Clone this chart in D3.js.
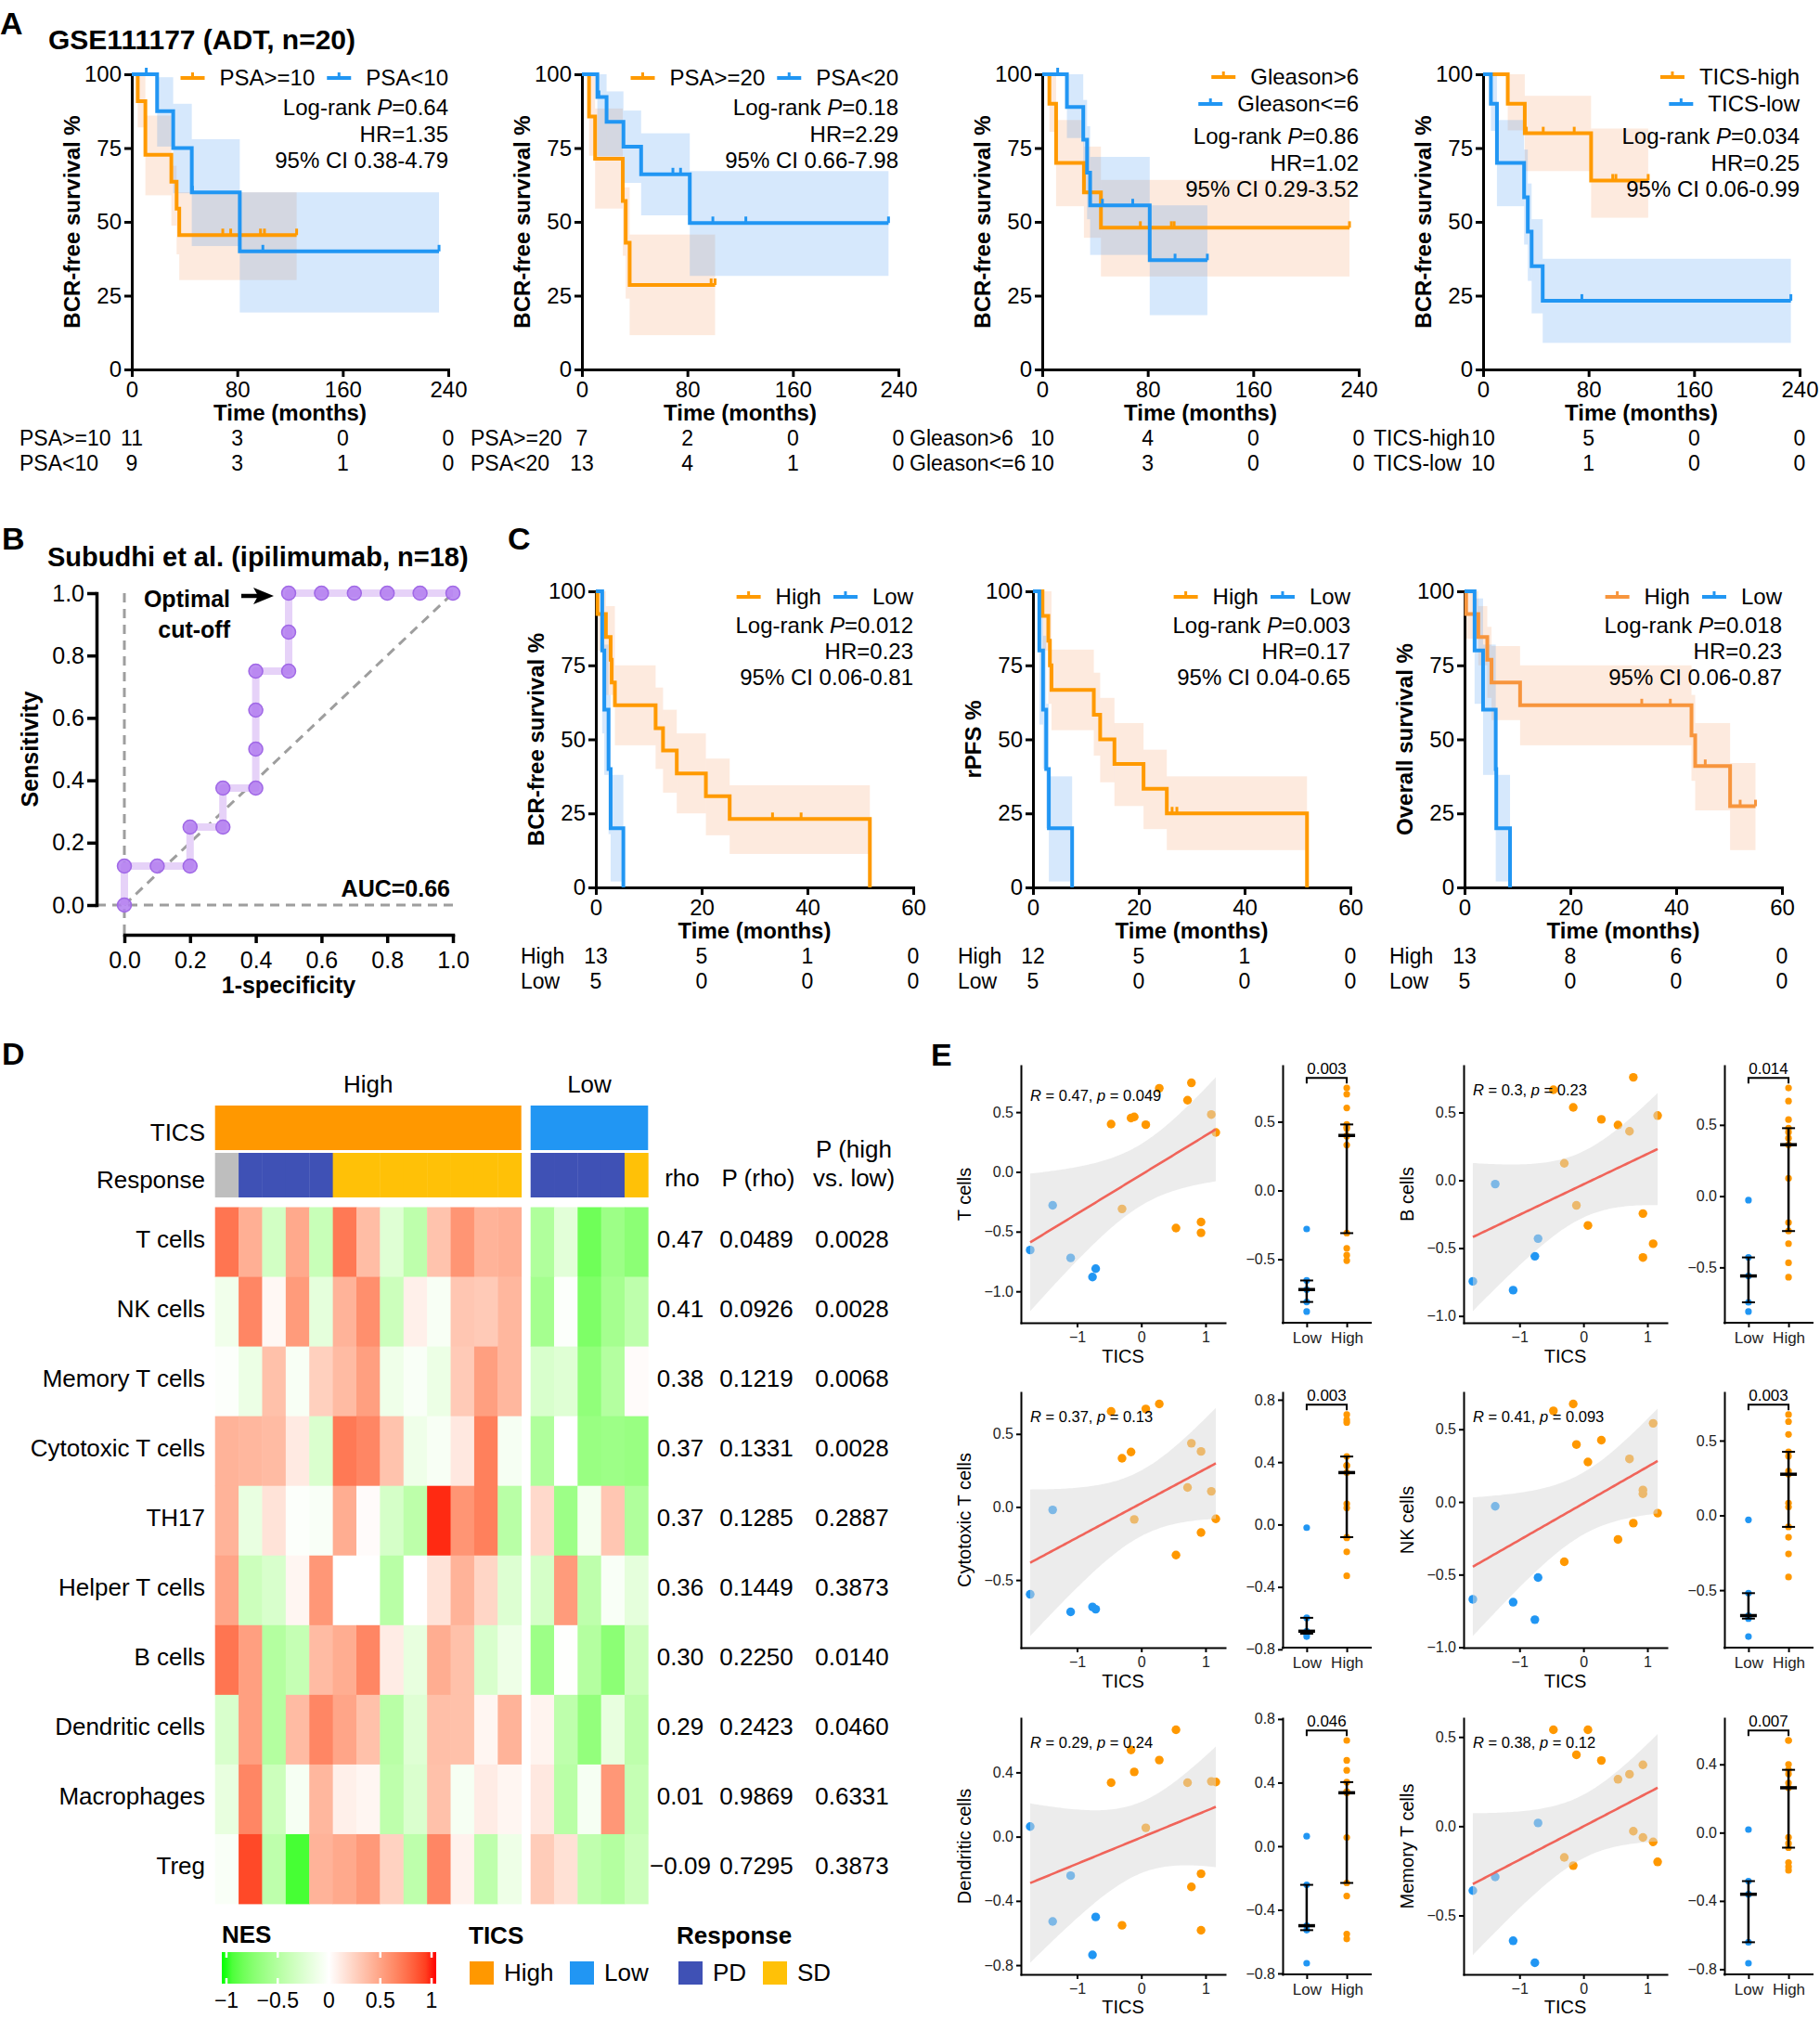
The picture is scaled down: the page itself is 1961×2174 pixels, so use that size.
<!DOCTYPE html>
<html><head><meta charset="utf-8">
<script src="https://cdn.jsdelivr.net/npm/d3@7"></script>
<style>html,body{margin:0;padding:0;background:#fff}</style>
</head><body>
<svg id="fig" width="1961" height="2174" xmlns="http://www.w3.org/2000/svg"></svg>
<script>
// ================= DATA =================
const survTicks=[0,25,50,75,100];
const kmTicksA=[0,80,160,240];
const kmTicksC=[0,20,40,60];

// ---- Panel A : KM steps [time, survival%], CI segments [t0,t1,lower,upper], censor times
const a1HiKM=[[0,100],[4.5,90.9],[10.3,72.7],[30,63.6],[34,54.5],[36,45.5],[125,45.5]];
const a1HiCI=[[4.5,10.3,82,100],[10.3,30,59,86],[30,34,48.7,69],[34,36,39,60],[36,125,30.3,60]];
const a1HiCens=[69,75,97.6,100.6,125];
const a1LoKM=[[0,100],[19.2,87.5],[31.4,75],[45.5,60],[81.9,40],[233,40]];
const a1LoCI=[[19.2,31.4,75.5,99],[31.4,45.5,59.7,90],[45.5,81.9,41.8,78],[81.9,233,19.3,60]];
const a1LoCens=[11,46,99.4,233];

const a2HiKM=[[0,100],[5.4,85.7],[10,71.4],[31,57.1],[33.2,42.9],[36.2,28.6],[101,28.6]];
const a2HiCI=[[5.4,10,72.4,100],[10,31,54.5,88.4],[31,33.2,38.5,61.7],[33.2,36.2,24,61.7],[36.2,101,11.6,45.7]];
const a2HiCens=[98,101];
const a2LoKM=[[0,100],[11.7,92.3],[18.7,83.9],[31.5,75.5],[44.9,66.1],[81.8,49.6],[232.5,49.6]];
const a2LoCI=[[11.7,18.7,72.2,100],[18.7,31.5,72.2,94.2],[31.5,44.9,63.2,87.7],[44.9,81.8,52.2,80],[81.8,232.5,31.7,67.2]];
const a2LoCens=[12.9,69,74.8,99.3,124.3,232.5];

const a3HiKM=[[0,100],[5.4,90],[10.5,70],[31.6,60],[44.5,48],[233,48]];
const a3HiCI=[[5.4,10.5,80.5,100],[10.5,31.6,55.3,84.5],[31.6,44.5,44.6,75.5],[44.5,233,31.5,64.2]];
const a3HiCens=[74.4,97.9,100,233];
const a3LoKM=[[0,100],[18.7,88.9],[31.1,77.8],[34,66.7],[36.3,55.6],[81.5,37],[125.2,37]];
const a3LoCI=[[18.7,31.1,78.4,100],[31.1,34,60,91.3],[34,36.3,50.9,82.4],[36.3,81.5,38.8,72],[81.5,125.2,18.4,55.6]];
const a3LoCens=[11.7,45.6,68.6,100.7,125.2];

const a4HiKM=[[0,100],[18.7,90],[31.6,80],[81.9,64],[125.2,64]];
const a4HiCI=[[18.7,31.6,81,100],[31.6,81.9,67.2,92.7],[81.9,125.2,51.4,81.6]];
const a4HiCens=[32.8,45.6,69.1,98.3,100.7,125.2];
const a4LoKM=[[0,100],[5.9,90],[10.5,70],[31.1,58.3],[33.9,46.7],[36.8,35],[45.2,23.3],[233.4,23.3]];
const a4LoCI=[[5.9,10.5,80.8,100],[10.5,31.1,55.3,84.5],[31.1,33.9,42.3,74.5],[33.9,36.8,30,63],[36.8,45.2,19,50.9],[45.2,233.4,9,37.5]];
const a4LoCens=[74.9,233.4];

const statsA=[["0.64","1.35","0.38-4.79"],["0.18","2.29","0.66-7.98"],["0.86","1.02","0.29-3.52"],["0.034","0.25","0.06-0.99"]];
const groupsA=[["PSA>=10","PSA<10"],["PSA>=20","PSA<20"],["Gleason>6","Gleason<=6"],["TICS-high","TICS-low"]];
const riskA=[[[11,3,0,0],[9,3,1,0]],[[7,2,0,0],[13,4,1,0]],[[10,4,0,0],[10,3,0,0]],[[10,5,0,0],[10,1,0,0]]];

// ---- Panel C
const c1HiKM=[[0,100],[0.3,92.3],[1.9,84.6],[2.8,76.9],[3.0,69.2],[3.6,61.5],[11.3,53.8],[12.7,46.2],[15.3,38.5],[20.8,30.8],[25.3,23.1],[51.8,0]];
const c1HiCI=[[0.3,1.9,80,100],[1.9,3.6,65,95],[3.6,11.3,48,75],[11.3,12.7,40,67.5],[12.7,15.3,32,60],[15.3,20.8,25,52],[20.8,25.3,17.6,43.5],[25.3,51.8,11.3,34.5]];
const c1HiCens=[33.4,38.8];
const c1LoKM=[[0,100],[1.2,80],[1.6,60],[2.4,40],[2.8,20],[5.2,0]];
const c1LoCI=[[1.2,1.6,52,100],[1.6,2.4,38,82],[2.4,2.8,18,65],[2.8,5.2,2,38]];

const c2HiKM=[[0,100],[1.8,91.7],[2.9,83.3],[3.2,75],[3.5,66.7],[11.5,58.3],[12.7,50],[15.4,41.7],[20.9,33.3],[25.3,25],[51.8,0]];
const c2HiCI=[[1.8,2.9,80,100],[2.9,3.5,62,100],[3.5,11.5,53.1,80.3],[11.5,12.7,44.5,72.5],[12.7,15.4,35.5,64],[15.4,20.9,27.5,55.5],[20.9,25.3,19.7,46.5],[25.3,51.8,12.6,37.5]];
const c2HiCens=[26.3,27.2];
const c2LoKM=[[0,100],[1.2,80],[1.9,60],[2.5,40],[3.0,20],[7.4,0]];
const c2LoCI=[[1.2,1.9,55,100],[1.9,2.5,40,85],[2.5,3.0,20,62],[3.0,7.4,2,37.5]];

const c3HiKM=[[0,100],[0.3,92.3],[2.6,84.6],[4.3,76.9],[5.1,69.2],[10.5,61.5],[42.9,51.3],[43.6,41],[50.2,27.4],[55,27.4]];
const c3HiCI=[[0.3,2.6,84,100],[2.6,4.3,75,95],[4.3,5.1,64,88],[5.1,10.5,56.5,81.5],[10.5,42.9,48,75],[42.9,43.6,36,65],[43.6,50.2,26,55.5],[50.2,55,12.6,42]];
const c3HiCens=[33.5,38.9,45.5,52.1,55];
const c3LoKM=[[0,100],[1.9,80],[3.5,60],[5.9,40],[6.0,20],[8.6,0]];
const c3LoCI=[[1.9,3.5,62,97.6],[3.5,5.9,38,82],[5.9,8.6,2,38]];

const statsC=[["0.012","0.23","0.06-0.81"],["0.003","0.17","0.04-0.65"],["0.018","0.23","0.06-0.87"]];
const ylabC=["BCR-free survival %","rPFS %","Overall survival %"];
const riskC=[[[13,5,1,0],[5,0,0,0]],[[12,5,1,0],[5,0,0,0]],[[13,8,6,0],[5,0,0,0]]];

// ---- Panel B : ROC
const rocFPR=[0,0,0.1,0.2,0.2,0.3,0.3,0.4,0.4,0.4,0.4,0.5,0.5,0.5,0.6,0.7,0.8,0.9,1.0];
const rocTPR=[0,0.125,0.125,0.125,0.25,0.25,0.375,0.375,0.5,0.625,0.75,0.75,0.875,1,1,1,1,1,1];
const rocTicks=[0,0.2,0.4,0.6,0.8,1.0];

// ---- Panel D : heatmap NES
const cellTypes=['T cells','NK cells','Memory T cells','Cytotoxic T cells','TH17','Helper T cells','B cells','Dendritic cells','Macrophages','Treg'];
const heatHigh=[
 [0.70,0.42,-0.30,0.45,-0.36,0.68,0.35,-0.22,-0.42,0.32,0.55,0.40,0.42],
 [-0.10,0.62,0.04,0.52,-0.18,0.40,0.58,-0.34,0.08,-0.05,0.30,0.28,0.38],
 [-0.02,-0.13,0.33,-0.05,0.25,0.36,0.50,-0.11,-0.04,-0.13,0.28,0.50,0.38],
 [0.40,0.38,0.36,0.11,-0.25,0.68,0.62,0.32,-0.11,-0.05,0.12,0.65,-0.06],
 [0.40,-0.15,0.15,-0.02,-0.04,0.43,0.02,-0.28,-0.43,0.95,0.55,0.65,-0.45],
 [0.47,-0.34,-0.26,0.05,0.54,0.0,0.0,-0.45,0.0,0.15,0.40,0.22,-0.23],
 [0.70,0.50,-0.48,-0.38,0.36,0.43,0.62,0.10,-0.16,0.43,0.33,-0.26,-0.12],
 [-0.26,0.50,-0.48,0.36,0.62,0.47,0.33,-0.45,-0.22,0.34,0.33,0.05,0.40],
 [-0.16,0.62,-0.34,-0.06,0.38,0.08,0.05,-0.42,-0.25,0.33,-0.06,0.10,0.05],
 [-0.04,0.87,-0.42,-0.92,0.40,0.45,0.53,0.24,-0.42,0.62,0.07,-0.42,-0.12]];
const heatLow=[
 [-0.50,-0.20,-0.80,-0.60,-0.68],
 [-0.56,-0.02,-0.74,-0.56,-0.42],
 [-0.26,-0.22,-0.66,-0.48,0.02],
 [-0.50,0.0,-0.62,-0.60,-0.62],
 [0.20,-0.60,-0.08,0.30,-0.50],
 [-0.28,0.52,-0.42,-0.04,-0.18],
 [-0.60,-0.01,-0.48,-0.68,-0.34],
 [0.06,-0.42,-0.65,-0.16,-0.42],
 [0.12,-0.45,-0.06,0.54,-0.38],
 [0.27,0.16,-0.41,-0.48,-0.34]];
const respHigh=['NA','PD','PD','PD','PD','SD','SD','SD','SD','SD','SD','SD','SD'];
const respLow=['PD','PD','PD','PD','SD'];
const rhoVals=['0.47','0.41','0.38','0.37','0.37','0.36','0.30','0.29','0.01','\u22120.09'];
const pRhoVals=['0.0489','0.0926','0.1219','0.1331','0.1285','0.1449','0.2250','0.2423','0.9869','0.7295'];
const pHLVals=['0.0028','0.0028','0.0068','0.0028','0.2887','0.3873','0.0140','0.0460','0.6331','0.3873'];
const nesTicks=[-1,-0.5,0,0.5,1];

// ---- Panel E : per-sample TICS score and NES
const ticsScore=[-1.73,-1.38,-1.10,-0.76,-0.71,-0.47,-0.30,-0.16,-0.11,0.07,0.28,0.54,0.72,0.78,0.93,0.93,1.09,1.16];
const ticsGroup=['Low','Low','Low','Low','Low','High','High','High','High','High','High','High','High','High','High','High','High','High'];
const nesTcells=[-0.654,-0.28,-0.72,-0.88,-0.81,0.40,-0.31,0.45,0.46,0.395,0.70,-0.47,0.60,0.745,-0.42,-0.51,0.48,0.33];
const nesBcells=[-0.745,-0.028,-0.81,-0.56,-0.43,0.667,0.125,0.537,-0.185,-0.333,0.449,0.407,0.361,0.759,-0.245,-0.569,-0.468,0.477];
const nesCyto=[-0.598,-0.02,-0.718,-0.684,-0.70,0.654,0.333,0.376,-0.085,0.671,0.705,-0.329,0.133,0.436,-0.175,0.38,0.107,-0.081];
const nesNK=[-0.67,-0.03,-0.69,-0.81,-0.52,0.627,-0.412,0.674,0.395,0.275,0.425,-0.258,0.296,-0.146,0.082,0.056,0.541,-0.077];
const nesDC=[0.063,-0.528,-0.243,-0.736,-0.50,0.336,-0.552,0.54,0.403,0.055,0.477,0.665,0.336,-0.313,-0.231,-0.583,0.344,0.34];
const nesMem=[-0.361,-0.284,-0.642,-0.765,0.018,0.54,-0.175,-0.221,0.40,0.54,0.368,0.263,0.291,-0.028,0.344,-0.063,-0.088,-0.20];
const corR=['0.47','0.3','0.37','0.41','0.29','0.38'];
const corP=['0.049','0.23','0.13','0.093','0.24','0.12'];
const groupP=['0.003','0.014','0.003','0.003','0.046','0.007'];
const scatTicks=[[-1,-0.5,0,0.5],[-1,-0.5,0,0.5],[-0.5,0,0.5],[-1,-0.5,0,0.5],[-0.8,-0.4,0,0.4],[-0.5,0,0.5]];
const dotTicks=[[-0.5,0,0.5],[-0.5,0,0.5],[-0.8,-0.4,0,0.4,0.8],[-0.5,0,0.5],[-0.8,-0.4,0,0.4,0.8],[-0.8,-0.4,0,0.4]];

// ================= DRAWING =================
const ORANGE='#ff9a00', BLUE='#2196f3', OBAND='#f5945a', BBAND='#338cf0';
const svg=d3.select('#fig').attr('font-family',"'Liberation Sans', Arial, Helvetica, sans-serif");

function T(g,x,y,s,o){o=o||{};const t=g.append('text').attr('x',x).attr('y',y).attr('font-size',o.size||24)
 .attr('text-anchor',o.anchor||'start').attr('fill',o.fill||'#000');
 if(o.bold)t.attr('font-weight','bold'); if(o.italic)t.attr('font-style','italic');
 if(s!==null&&s!==undefined)t.text(s); return t;}
function styleAxis(a,size,sw,col){a.attr('font-family',null).attr('font-size',size);
 a.selectAll('path,line').attr('stroke','#000').attr('stroke-width',sw);
 a.select('.domain').attr('stroke-linecap','square');a.selectAll('text').attr('fill',col||'#000');}

function drawKM(o){
 const g=svg.append('g');
 const x=d3.scaleLinear().domain([0,o.tmax]).range([o.x0,o.x0+o.w]);
 const y=d3.scaleLinear().domain([0,100]).range([o.yb,o.yt]);
 const x1=o.x0+o.w;
 o.curves.forEach(c=>{
  g.append('g').selectAll('rect').data(c.ci).join('rect')
   .attr('x',d=>x(d[0])).attr('width',d=>x(d[1])-x(d[0]))
   .attr('y',d=>y(d[3])).attr('height',d=>y(d[2])-y(d[3]))
   .attr('fill',c.band).attr('fill-opacity',0.2);
 });
 const ya=g.append('g').attr('transform',`translate(${o.x0},0)`).call(d3.axisLeft(y).tickValues(survTicks).tickSize(8).tickSizeOuter(0).tickPadding(3));
 const xa=g.append('g').attr('transform',`translate(0,${o.yb})`).call(d3.axisBottom(x).tickValues(o.ticks).tickSize(8).tickSizeOuter(0).tickPadding(5));
 styleAxis(ya,24,3);styleAxis(xa,24,3);
 const line=d3.line().x(d=>x(d[0])).y(d=>y(d[1])).curve(d3.curveStepAfter);
 o.curves.forEach(c=>{
  g.append('path').attr('d',line(c.km)).attr('fill','none').attr('stroke',c.color).attr('stroke-width',4);
  const S=t=>{let v=100;c.km.forEach(p=>{if(p[0]<=t)v=p[1];});return v;};
  g.append('g').selectAll('line').data(c.cens||[]).join('line')
   .attr('x1',d=>x(d)).attr('x2',d=>x(d)).attr('y1',d=>y(S(d))).attr('y2',d=>y(S(d))-7)
   .attr('stroke',c.color).attr('stroke-width',3);
 });
 T(g,0,0,o.ylabel,{size:24,bold:true,anchor:'middle'}).attr('dy','0.35em')
  .attr('transform',`translate(${o.x0-64},${(o.yb+o.yt)/2}) rotate(-90)`);
 T(g,(o.x0+x1)/2,o.yb+55,'Time (months)',{size:24,bold:true,anchor:'middle'});
 o.legend.forEach(row=>{
  let xr=x1;
  for(let i=row.items.length-1;i>=0;i--){
   const lab=row.items[i][0], col=row.items[i][1];
   const t=T(g,xr,row.y,lab,{anchor:'end'});
   const w=t.node().getComputedTextLength();
   const sR=xr-w-16, sL=sR-26, ly=row.y-8;
   g.append('line').attr('x1',sL).attr('x2',sR).attr('y1',ly).attr('y2',ly).attr('stroke',col).attr('stroke-width',4);
   g.append('line').attr('x1',(sL+sR)/2).attr('x2',(sL+sR)/2).attr('y1',ly).attr('y2',ly-6).attr('stroke',col).attr('stroke-width',3);
   xr=sL-13;
  }
 });
 const t1=T(g,x1,o.statY[0],null,{anchor:'end'});
 t1.append('tspan').text('Log-rank ');
 t1.append('tspan').attr('font-style','italic').text('P');
 t1.append('tspan').text('='+o.stats[0]);
 T(g,x1,o.statY[1],'HR='+o.stats[1],{anchor:'end'});
 T(g,x1,o.statY[2],'95% CI '+o.stats[2],{anchor:'end'});
 o.riskLabels.forEach((lab,i)=>{
  T(g,o.riskX,o.riskY[i],lab,{size:23});
  o.risk[i].forEach((n,j)=>T(g,x(o.ticks[j]),o.riskY[i],n,{size:23,anchor:'middle'}));
 });
}

// Panel letters and titles
T(svg,0,37,'A',{size:34,bold:true});
T(svg,52,53,'GSE111177 (ADT, n=20)',{size:30,bold:true});
T(svg,2,592,'B',{size:34,bold:true});
T(svg,51,610,'Subudhi et al. (ipilimumab, n=18)',{size:29,bold:true});
T(svg,547,592,'C',{size:34,bold:true});
T(svg,2,1147,'D',{size:34,bold:true});
T(svg,1003,1148,'E',{size:34,bold:true});

// ---- Panel A
const aX0=[142,627,1123,1598];
const aRiskX=[21,507,980,1480];
const aCurves=[
 [[a1HiKM,a1HiCI,a1HiCens],[a1LoKM,a1LoCI,a1LoCens]],
 [[a2HiKM,a2HiCI,a2HiCens],[a2LoKM,a2LoCI,a2LoCens]],
 [[a3HiKM,a3HiCI,a3HiCens],[a3LoKM,a3LoCI,a3LoCens]],
 [[a4HiKM,a4HiCI,a4HiCens],[a4LoKM,a4LoCI,a4LoCens]]];
aX0.forEach((x0,i)=>{
 const two=i>=2;
 drawKM({x0:x0,w:341,yb:398,yt:80,tmax:240,ticks:kmTicksA,ylabel:'BCR-free survival %',
  curves:[{km:aCurves[i][0][0],ci:aCurves[i][0][1],cens:aCurves[i][0][2],color:ORANGE,band:OBAND},
          {km:aCurves[i][1][0],ci:aCurves[i][1][1],cens:aCurves[i][1][2],color:BLUE,band:BBAND}],
  legend: two?[{y:91,items:[[groupsA[i][0],ORANGE]]},{y:120,items:[[groupsA[i][1],BLUE]]}]
             :[{y:92,items:[[groupsA[i][0],ORANGE],[groupsA[i][1],BLUE]]}],
  statY: two?[155,184,212]:[124,153,181], stats:statsA[i],
  riskLabels:groupsA[i], risk:riskA[i], riskX:aRiskX[i], riskY:[480,507]});
});

// ---- Panel C
const cX0=[642,1113,1578];
const cRiskX=[561,1032,1497];
const cCurves=[[[c1HiKM,c1HiCI,c1HiCens],[c1LoKM,c1LoCI,[]]],[[c2HiKM,c2HiCI,c2HiCens],[c2LoKM,c2LoCI,[]]],[[c3HiKM,c3HiCI,c3HiCens],[c3LoKM,c3LoCI,[]]]];
cX0.forEach((x0,i)=>{
 const oc=i===2?'#f7953d':ORANGE;
 drawKM({x0:x0,w:342,yb:956,yt:637,tmax:60,ticks:kmTicksC,ylabel:ylabC[i],
  curves:[{km:cCurves[i][0][0],ci:cCurves[i][0][1],cens:cCurves[i][0][2],color:oc,band:OBAND},
          {km:cCurves[i][1][0],ci:cCurves[i][1][1],cens:[],color:BLUE,band:BBAND}],
  legend:[{y:651,items:[['High',oc],['Low',BLUE]]}],
  statY:[682,710,738], stats:statsC[i],
  riskLabels:['High','Low'], risk:riskC[i], riskX:cRiskX[i], riskY:[1038,1065]});
});

// ---- Panel B
(function(){
 const g=svg.append('g');
 const x=d3.scaleLinear().domain([0,1]).range([134,488]);
 const y=d3.scaleLinear().domain([0,1]).range([975,639]);
 const dl=(x1,y1,x2,y2)=>g.append('line').attr('x1',x1).attr('y1',y1).attr('x2',x2).attr('y2',y2)
   .attr('stroke','#9e9e9e').attr('stroke-width',3).attr('stroke-dasharray','10,7');
 dl(x(0),y(1),x(0),1006); dl(104,y(0),x(1),y(0)); dl(x(0),y(0),x(1),y(1));
 const ya=g.append('g').attr('transform','translate(104,0)').call(d3.axisLeft(y).tickValues(rocTicks).tickFormat(d3.format('.1f')).tickSize(10).tickSizeOuter(0).tickPadding(3));
 const xa=g.append('g').attr('transform','translate(0,1007)').call(d3.axisBottom(x).tickValues(rocTicks).tickFormat(d3.format('.1f')).tickSize(9).tickSizeOuter(0).tickPadding(9));
 styleAxis(ya,25,3.5);styleAxis(xa,25,3.5);
 const pts=rocFPR.map((f,i)=>[f,rocTPR[i]]);
 g.append('path').attr('d',d3.line().x(d=>x(d[0])).y(d=>y(d[1]))(pts)).attr('fill','none')
  .attr('stroke','#e6d2f8').attr('stroke-width',8).attr('stroke-linejoin','round');
 g.selectAll('circle').data(pts).join('circle').attr('cx',d=>x(d[0])).attr('cy',d=>y(d[1])).attr('r',7.5)
  .attr('fill','#b27cf0').attr('fill-opacity',0.85).attr('stroke','#a068e6').attr('stroke-width',1.5);
 T(g,0,0,'Sensitivity',{size:25,bold:true,anchor:'middle'}).attr('dy','0.35em').attr('transform','translate(32,807) rotate(-90)');
 T(g,311,1070,'1-specificity',{size:25,bold:true,anchor:'middle'});
 T(g,248,654,'Optimal',{size:25,bold:true,anchor:'end'});
 T(g,248,687,'cut-off',{size:25,bold:true,anchor:'end'});
 g.append('line').attr('x1',260).attr('x2',280).attr('y1',642).attr('y2',642).attr('stroke','#000').attr('stroke-width',4.5);
 g.append('path').attr('d','M273,633L295,642L273,651L278,642Z').attr('fill','#000');
 T(g,485,966,'AUC=0.66',{size:25,bold:true,anchor:'end'});
})();

// ---- Panel D
(function(){
 const g=svg.append('g');
 const color=d3.scaleLinear().domain([-1,0,1]).range(['#00ff00','#ffffff','#ff0000']).interpolate(d3.interpolateLab);
 const ticsCol={High:'#ff9800',Low:'#2196f3'}, respCol={NA:'#bebebe',PD:'#3f51b5',SD:'#ffc107'};
 const xH=d3.scaleBand().domain(d3.range(heatHigh[0].length)).range([231.7,561.7]);
 const xL=d3.scaleBand().domain(d3.range(heatLow[0].length)).range([571.7,698.3]);
 const yR=d3.scaleBand().domain(cellTypes).range([1300.5,2051]);
 const grp=[[xH,heatHigh,respHigh,'High'],[xL,heatLow,respLow,'Low']];
 grp.forEach(([xs,mat,resp,name])=>{
  const [r0,r1]=xs.range();
  g.append('rect').attr('x',r0).attr('y',1191).attr('width',r1-r0).attr('height',48).attr('fill',ticsCol[name]);
  g.selectAll(null).data(resp).join('rect').attr('x',(d,i)=>xs(i)).attr('y',1242).attr('width',xs.bandwidth()+0.4).attr('height',48).attr('fill',d=>respCol[d]);
  mat.forEach((row,ri)=>{
   g.selectAll(null).data(row).join('rect').attr('x',(d,i)=>xs(i)).attr('y',yR(cellTypes[ri]))
    .attr('width',xs.bandwidth()+0.4).attr('height',yR.bandwidth()+0.4).attr('fill',d=>color(d));
  });
  T(g,(r0+r1)/2,1177,name,{size:26,anchor:'middle'});
 });
 T(g,221,1229,'TICS',{size:26,anchor:'end'});
 T(g,221,1280,'Response',{size:26,anchor:'end'});
 cellTypes.forEach((c,i)=>{
  const yc=yR(c)+yR.bandwidth()/2+6;
  T(g,221,yc,c,{size:26,anchor:'end'});
  T(g,733,yc,rhoVals[i],{size:26,anchor:'middle'});
  T(g,815,yc,pRhoVals[i],{size:26,anchor:'middle'});
  T(g,918,yc,pHLVals[i],{size:26,anchor:'middle'});
 });
 T(g,735,1278,'rho',{size:26,anchor:'middle'});
 T(g,817,1278,'P (rho)',{size:26,anchor:'middle'});
 T(g,920,1247,'P (high',{size:26,anchor:'middle'});
 T(g,920,1278,'vs. low)',{size:26,anchor:'middle'});
 // legends
 T(g,239,2093,'NES',{size:26,bold:true});
 const ls=d3.scaleLinear().domain([-1,1]).range([244,465]);
 const defs=svg.append('defs');
 const gr=defs.append('linearGradient').attr('id','nesgrad').attr('x1','0%').attr('x2','100%');
 d3.range(0,1.0001,0.05).forEach(f=>{const v=-1+2*f;gr.append('stop').attr('offset',(f*100)+'%').attr('stop-color',color(v));});
 g.append('rect').attr('x',ls(-1)-5).attr('y',2103).attr('width',ls(1)-ls(-1)+10).attr('height',34).attr('fill','url(#nesgrad)');
 nesTicks.forEach(v=>{
  g.append('line').attr('x1',ls(v)).attr('x2',ls(v)).attr('y1',2103).attr('y2',2109).attr('stroke','#fff').attr('stroke-width',2.5);
  g.append('line').attr('x1',ls(v)).attr('x2',ls(v)).attr('y1',2131).attr('y2',2137).attr('stroke','#fff').attr('stroke-width',2.5);
  T(g,ls(v),2163,d3.format('')(v).replace('-','\u2212'),{size:23,anchor:'middle'});
 });
 T(g,505,2094,'TICS',{size:26,bold:true});
 T(g,729,2094,'Response',{size:26,bold:true});
 const sq=[[506,'High',ticsCol.High],[614,'Low',ticsCol.Low],[731,'PD',respCol.PD],[822,'SD',respCol.SD]];
 sq.forEach(([x,l,c])=>{g.append('rect').attr('x',x).attr('y',2113).attr('width',26).attr('height',25).attr('fill',c);
  T(g,x+37,2134,l,{size:26});});
})();

// ---- Panel E
function lmBand(xs,ys){
 const n=xs.length,mx=d3.mean(xs),my=d3.mean(ys);let sxx=0,sxy=0;
 xs.forEach((x,i)=>{sxx+=(x-mx)**2;sxy+=(x-mx)*(ys[i]-my);});
 const b=sxy/sxx,a=my-b*mx;let sse=0;xs.forEach((x,i)=>{sse+=(ys[i]-a-b*x)**2;});
 const s=Math.sqrt(sse/(n-2)),tq=2.1199;const [x0,x1]=d3.extent(xs);
 return d3.range(81).map(i=>{const x=x0+(x1-x0)*i/80,f=a+b*x,se=s*Math.sqrt(1/n+(x-mx)**2/sxx);return {x:x,f:f,lo:f-tq*se,hi:f+tq*se};});
}
const eNames=['T cells','B cells','Cytotoxic T cells','NK cells','Dendritic cells','Memory T cells'];
const eVals=[nesTcells,nesBcells,nesCyto,nesNK,nesDC,nesMem];
const eCols=[{sx0:1100,sx1:1320,dx0:1382,dx1:1477},{sx0:1577,sx1:1796,dx0:1858,dx1:1953}];
const eRows=[{top:1148,bot:1425},{top:1500,bot:1775},{top:1851,bot:2127}];
const gCol={Low:'#2196f3',High:'#ff9800'};
const fmt=d3.format('.1f');
eNames.forEach((name,k)=>{
 const C=eCols[k%2],R=eRows[Math.floor(k/2)],vals=eVals[k];
 const g=svg.append('g');
 const band=lmBand(ticsScore,vals);
 const ext=d3.extent(vals.concat(band.map(d=>d.lo),band.map(d=>d.hi)));const rr=ext[1]-ext[0];
 const ys=d3.scaleLinear().domain([ext[0]-0.05*rr,ext[1]+0.05*rr]).range([R.bot,R.top]);
 const xe=d3.extent(ticsScore),xr=xe[1]-xe[0];
 const xs=d3.scaleLinear().domain([xe[0]-0.05*xr,xe[1]+0.05*xr]).range([C.sx0,C.sx1]);
 const ya=g.append('g').attr('transform',`translate(${C.sx0},0)`).call(d3.axisLeft(ys).tickValues(scatTicks[k]).tickFormat(fmt).tickSize(5).tickSizeOuter(0).tickPadding(3));
 const xa=g.append('g').attr('transform',`translate(0,${R.bot})`).call(d3.axisBottom(xs).tickValues([-1,0,1]).tickFormat(d3.format('d')).tickSize(5).tickSizeOuter(0).tickPadding(5));
 styleAxis(ya,16,2,'#222');styleAxis(xa,16,2,'#222');
 g.selectAll('circle.p').data(vals).join('circle').attr('class','p').attr('cx',(d,i)=>xs(ticsScore[i])).attr('cy',d=>ys(d)).attr('r',4.7).attr('fill',(d,i)=>gCol[ticsGroup[i]]);
 g.append('path').attr('d',d3.area().x(d=>xs(d.x)).y0(d=>ys(d.lo)).y1(d=>ys(d.hi))(band)).attr('fill','#d9d9d9').attr('fill-opacity',0.5);
 g.append('path').attr('d',d3.line().x(d=>xs(d.x)).y(d=>ys(d.f))(band)).attr('fill','none').attr('stroke','#f0645a').attr('stroke-width',2.6);
 const rt=T(g,xs(xe[0]),ys(d3.max(vals))+19,null,{size:16.5});
 rt.append('tspan').attr('font-style','italic').text('R');
 rt.append('tspan').text(' = '+corR[k]+', ');
 rt.append('tspan').attr('font-style','italic').text('p');
 rt.append('tspan').text(' = '+corP[k]);
 T(g,0,0,name,{size:20,anchor:'middle'}).attr('dy','0.35em').attr('transform',`translate(${C.sx0-61},${(R.top+R.bot)/2}) rotate(-90)`);
 T(g,(C.sx0+C.sx1)/2,Math.min(R.bot+43,2169),'TICS',{size:20,anchor:'middle'});
 // dot plot
 const dx=d3.scalePoint().domain(['Low','High']).range([C.dx0,C.dx1]).padding(0.6);
 const mn=d3.min(vals),mx=d3.max(vals),r2=mx-mn;
 const dy=d3.scaleLinear().domain([mn-0.05*r2,mx+0.1*r2]).range([R.bot,R.top]);
 const dya=g.append('g').attr('transform',`translate(${C.dx0},0)`).call(d3.axisLeft(dy).tickValues(dotTicks[k]).tickFormat(fmt).tickSize(5).tickSizeOuter(0).tickPadding(3));
 const dxa=g.append('g').attr('transform',`translate(0,${R.bot})`).call(d3.axisBottom(dx).tickSize(5).tickSizeOuter(0).tickPadding(5));
 styleAxis(dya,16,2,'#222');styleAxis(dxa,17,2,'#222');
 dxa.select('.domain').attr('d',`M${C.dx0},0H${C.dx1}`);
 g.selectAll('circle.d').data(vals).join('circle').attr('class','d').attr('cx',(d,i)=>dx(ticsGroup[i])).attr('cy',d=>dy(d)).attr('r',3.6).attr('fill',(d,i)=>gCol[ticsGroup[i]]);
 ['Low','High'].forEach(gn=>{
  const v=vals.filter((d,i)=>ticsGroup[i]===gn).sort(d3.ascending);
  const q1=d3.quantile(v,0.25),md=d3.quantile(v,0.5),q3=d3.quantile(v,0.75),cx=dx(gn);
  g.append('line').attr('x1',cx).attr('x2',cx).attr('y1',dy(q1)).attr('y2',dy(q3)).attr('stroke','#000').attr('stroke-width',2.5);
  [q1,q3].forEach(q=>g.append('line').attr('x1',cx-7).attr('x2',cx+7).attr('y1',dy(q)).attr('y2',dy(q)).attr('stroke','#000').attr('stroke-width',2));
  g.append('line').attr('x1',cx-9).attr('x2',cx+9).attr('y1',dy(md)).attr('y2',dy(md)).attr('stroke','#000').attr('stroke-width',3.5);
 });
 const by=dy(mx+0.045*r2),be=dy(mx+0.02*r2);
 g.append('path').attr('d',`M${dx('Low')},${be}V${by}H${dx('High')}V${be}`).attr('fill','none').attr('stroke','#000').attr('stroke-width',2);
 T(g,(dx('Low')+dx('High'))/2,by-4,groupP[k],{size:17,anchor:'middle'});
});
</script>
</body></html>
